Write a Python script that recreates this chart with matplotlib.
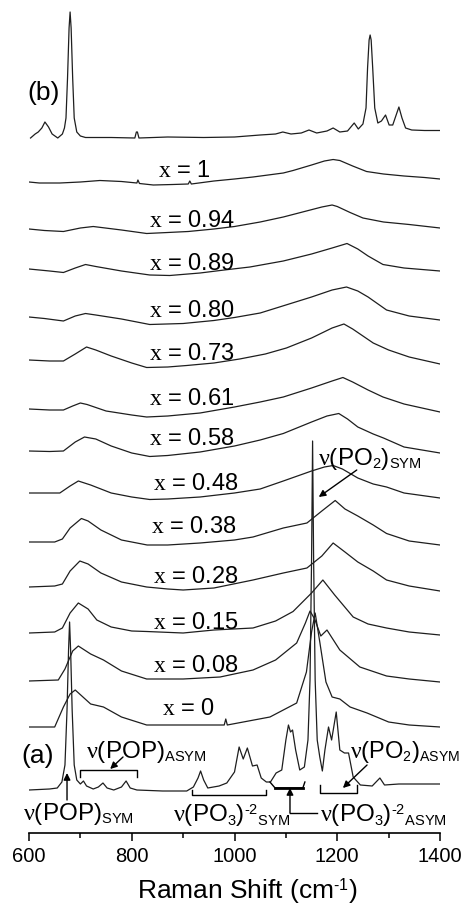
import numpy as np
import matplotlib
matplotlib.use("Agg")
import matplotlib.pyplot as plt
import matplotlib._mathtext as _mt

plt.rcParams["font.family"] = ["Liberation Sans", "DejaVu Sans"]
plt.rcParams["mathtext.fontset"] = "custom"
plt.rcParams["mathtext.rm"] = "Liberation Sans"
plt.rcParams["mathtext.it"] = "Liberation Serif"
plt.rcParams["mathtext.bf"] = "Liberation Sans:bold"
# smaller sub/superscripts for the band labels
_mt.SHRINK_FACTOR = 0.6

# ---------------------------------------------------------------- spectra
# Raman shift (cm^-1) and intensity (a.u., relative to each trace's start)
wn_b = [603, 612, 618, 625, 631, 638, 645, 656, 665, 669, 672, 675, 678, 680, 682,
        685, 688, 693, 700, 710, 760, 806, 809, 811, 814, 870, 940, 1000, 1050, 1080,
        1094, 1110, 1130, 1145, 1160, 1180, 1192, 1205, 1220, 1233, 1241, 1250, 1256,
        1259, 1262, 1264, 1266, 1269, 1273, 1279, 1286, 1294, 1301, 1308, 1314, 1320,
        1326, 1333, 1345, 1370, 1400]
int_b = [0, 4, 6, 10, 16, 11, 4, 0, 4, 10, 20, 60, 110, 126, 110,
         60, 20, 6, 2, 0.5, 0.5, 0, 6, 6, 0, 1, 0.5, 1, 3, 4,
         6, 4, 5, 8, 5, 7, 10, 6, 7, 15, 9, 14, 30,
         70, 98, 103, 98, 70, 30, 15, 17, 23, 13, 13, 22, 31,
         20, 10, 8, 7.5, 7.5]

wn_100 = [600, 620, 660, 700, 738, 780, 810, 812, 815, 842, 880, 910, 913, 916, 960,
          1000, 1036, 1095, 1114, 1150, 1175, 1192, 1205, 1230, 1257, 1290, 1330, 1370, 1400]
int_100 = [0, -1, -1, 0, 1.5, 0.5, -1, 2, -1.5, -3, -2.5, -2, 1, -2, 1,
           3, 5, 9, 11.5, 17, 21, 22.5, 21.5, 16, 10.5, 8, 6, 4.5, 3]

wn_094 = [600, 630, 667, 700, 725, 780, 829, 870, 910, 960, 1000, 1050, 1095, 1140,
          1170, 1190, 1200, 1225, 1250, 1290, 1340, 1400]
int_094 = [0, -1.5, -2.5, 1, 2.5, -1, -4.5, -3.5, -2.5, 0, 2.5, 7, 12, 18,
           22, 24, 22.5, 16.5, 11, 7, 4.5, 1]

wn_089 = [600, 640, 667, 690, 710, 730, 780, 835, 874, 933, 980, 1030, 1095, 1150,
          1190, 1219, 1240, 1260, 1289, 1330, 1400]
int_089 = [0, -2, -3.5, 1, 4.5, 2.5, -2, -6, -6.5, -4, -1, 2, 8, 15,
           21, 25.5, 20, 13, 4.5, 1, -2]

wn_080 = [600, 630, 667, 690, 710, 730, 780, 835, 900, 960, 1000, 1050, 1100, 1150,
          1190, 1218, 1240, 1260, 1296, 1340, 1400]
int_080 = [0, -1.5, -4, 1, 3.5, 2, -2, -7.5, -6.5, -3.5, -0.5, 4, 12, 20,
           27, 30, 26, 20, 7, 1, -3]

wn_073 = [600, 640, 667, 690, 712, 730, 760, 800, 829, 870, 907, 960, 1010, 1060,
          1101, 1150, 1190, 1213, 1230, 1250, 1270, 1300, 1340, 1400]
int_073 = [0, -1, -1, 6, 13, 10, 4, -3, -7.5, -7, -5.5, -3, 1, 6,
           12, 22, 32, 36, 31, 24, 17, 10, 3, -4]

wn_061 = [600, 640, 667, 685, 700, 713, 750, 800, 829, 870, 933, 1000, 1050, 1095,
          1150, 1190, 1211, 1230, 1260, 1289, 1330, 1400]
int_061 = [0, -1, -1, 3, 6, 4.5, -2, -6, -8, -7, -4, 2, 7, 12,
           21, 28, 31.5, 27, 19, 12, 5, -3]

wn_058 = [600, 640, 667, 690, 708, 730, 760, 800, 835, 870, 933, 1000, 1050, 1095,
          1150, 1180, 1203, 1220, 1240, 1270, 1290, 1330, 1400]
int_058 = [0, -0.5, 0, 9, 14, 12, 5, -2, -5.5, -4.5, -1, 5, 11, 17.5,
           29, 35, 37.5, 32, 24, 17, 13, 4, -2]

wn_048 = [600, 660, 680, 696, 720, 760, 800, 835, 870, 933, 1000, 1050, 1095, 1150,
          1175, 1192, 1210, 1240, 1270, 1296, 1330, 1400]
int_048 = [0, 0, 7, 12, 8, 0, -4, -6.5, -6, -4, 0, 4, 12, 22,
           26, 27.5, 24, 15, 9, 6, 0, -5]

wn_038 = [600, 650, 665, 680, 702, 715, 740, 780, 830, 870, 933, 1000, 1036, 1095,
          1141, 1170, 1196, 1215, 1240, 1270, 1296, 1340, 1400]
int_038 = [0, 0, 3, 14, 23.5, 21, 12, 2, -3, -3, -1, 2, 5, 14,
           19, 31, 41.5, 33, 26, 17, 8.5, 1, -3]

wn_028 = [600, 650, 665, 680, 699, 715, 740, 780, 829, 870, 900, 960, 1036, 1095,
          1141, 1170, 1192, 1215, 1240, 1270, 1296, 1340, 1400]
int_028 = [0, 1, 3, 16, 26, 23, 14, 5, 0, -2, -3, -1, 7, 14,
           19, 31, 44, 35, 25, 16, 7, 1, -4]

wn_015 = [600, 650, 665, 680, 696, 715, 732, 760, 800, 829, 900, 960, 1036, 1080,
          1114, 1150, 1172, 1195, 1231, 1260, 1296, 1340, 1400]
int_015 = [0, 1, 5, 20, 30, 24, 13, 6, 2, 1.5, 0, 3, 5, 12,
           21.5, 40, 53, 38, 16, 9, 5, 1, -2]

wn_008 = [600, 657, 670, 685, 696, 720, 745, 780, 829, 900, 972, 1036, 1080, 1121,
          1138, 1147, 1156, 1168, 1180, 1205, 1244, 1296, 1340, 1400]
int_008 = [0, 1, 12, 30, 35, 27, 21, 10, 2, 2, 4, 11, 21, 38,
           58, 70, 62, 45, 51, 31, 14, 5, 2, -1]

wn_000 = [600, 650, 667, 680, 690, 705, 720, 745, 780, 829, 900, 980, 983, 986,
          1069, 1121, 1140, 1150, 1157, 1166, 1178, 1190, 1205, 1225, 1258, 1300, 1340, 1400]
int_000 = [0, 0, 20, 33, 37, 30, 23, 20, 10, 2, 2, 2, 8, 2,
           10, 24, 55, 95, 114, 85, 45, 30, 28, 20, 14, 5, 2, 0]

wn_a = [600, 640, 655, 664, 670, 674, 677, 679, 681, 684, 688, 693, 700, 706, 712,
        725, 735, 744, 752, 765, 780, 789, 797, 810, 860, 907, 920, 929, 934, 940,
        948, 970, 985, 1000, 1009, 1017, 1025, 1035, 1044, 1052, 1062, 1070, 1081, 1092,
        1100, 1105, 1109, 1113, 1119, 1127, 1136, 1143, 1147, 1150, 1152, 1154, 1157,
        1161, 1166, 1171, 1176, 1183, 1189, 1198, 1205, 1214, 1222, 1231, 1245, 1268,
        1283, 1292, 1320, 1400]
int_a = [0, 1, 2, 8, 25, 80, 140, 168, 140, 80, 25, 10, 6, 9, 4,
         1, 3, 7, 2, 0, 3, 9, 2, 0, -1, -1, 3, 12, 19, 10,
         2, 4, 7, 18, 43, 31, 42, 24, 25, 12, 8, 8, 17, 20,
         50, 65, 58, 60, 40, 20, 23, 50, 110, 230, 349, 230, 110,
         50, 33, 19, 40, 63, 50, 78, 40, 37, 37, 13, 5, 4,
         12, 5, 6, 6]

# traces from top to bottom
spectra = [(wn_b, int_b), (wn_100, int_100), (wn_094, int_094), (wn_089, int_089),
           (wn_080, int_080), (wn_073, int_073), (wn_061, int_061), (wn_058, int_058),
           (wn_048, int_048), (wn_038, int_038), (wn_028, int_028), (wn_015, int_015),
           (wn_008, int_008), (wn_000, int_000), (wn_a, int_a)]
compositions = ["1", "0.94", "0.89", "0.80", "0.73", "0.61", "0.58", "0.48",
                "0.38", "0.28", "0.15", "0.08", "0"]

# ---------------------------------------------------------------- layout
stack_offsets = [695, 651, 604, 564, 516, 473, 424, 382, 340, 291, 246, 200, 152, 106, 43]
label_anchor = [(851, 656), (834, 606), (834, 563), (834, 516), (834, 473), (834, 428),
                (834, 388), (841, 343), (837, 300), (841, 250), (841, 204), (841, 161),
                (859, 118)]

fig = plt.figure(figsize=(4.63, 9.07), dpi=100)
ax = fig.add_axes([29 / 463, 74 / 907, 411 / 463, 828 / 907])
ax.set_xlim(600, 1400)
ax.set_ylim(0, 828)

line_col = "#1e1e1e"
for (wn, inten), off in zip(spectra, stack_offsets):
    ax.plot(wn, off + np.asarray(inten, dtype=float), color=line_col, lw=0.9)

fs_lab = 17
for comp, (lx, ly) in zip(compositions, label_anchor):
    ax.text(lx, ly, r"$x$ = " + comp, fontsize=fs_lab, ha="left", va="baseline")

ax.text(596, 733, "(b)", fontsize=19, ha="left", va="baseline", clip_on=False)
ax.text(586, 70, "(a)", fontsize=19, ha="left", va="baseline", clip_on=False)

# band assignments
fs_band = 17.5
ax.text(711, 75, r"$\nu$(POP)$_{\mathrm{ASYM}}$", fontsize=fs_band, va="baseline")
ax.text(588, 13, r"$\nu$(POP)$_{\mathrm{SYM}}$", fontsize=fs_band, va="baseline",
        clip_on=False)
ax.text(880, 11, r"$\nu$(PO$_3$)$^{\text{-2}}$$_{\mathrm{SYM}}$", fontsize=fs_band,
        va="baseline")
ax.text(1166, 11, r"$\nu$(PO$_3$)$^{\text{-2}}$$_{\mathrm{ASYM}}$", fontsize=fs_band,
        va="baseline", clip_on=False)
ax.text(1224, 75, r"$\nu$(PO$_2$)$_{\mathrm{ASYM}}$", fontsize=17, va="baseline",
        clip_on=False)
ax.text(1163, 368, r"$\nu$(PO$_2$)$_{\mathrm{SYM}}$", fontsize=fs_band, va="baseline")

kw = dict(color="black", lw=1.0)
# brackets
ax.plot([699, 699, 810, 810], [56, 63, 63, 56], **kw)
ax.plot([917, 917, 1061, 1061], [43, 38, 38, 43], **kw)
ax.plot([1069, 1079, 1133, 1137], [51, 45, 45, 51], **kw)
ax.plot([1079, 1133], [45, 45], color="black", lw=2.0)
ax.plot([1166, 1166, 1238, 1238], [48, 40, 40, 48], **kw)
ax.plot([1108, 1160], [20, 20], **kw)

arrow = dict(arrowstyle="-|>", color="black", lw=1.0, mutation_scale=10,
             shrinkA=0, shrinkB=0)
ax.annotate("", xy=(758, 64), xytext=(783, 76), arrowprops=arrow)
ax.annotate("", xy=(674, 60), xytext=(674, 33), arrowprops=arrow)
ax.annotate("", xy=(1108, 45), xytext=(1108, 20), arrowprops=arrow)
ax.annotate("", xy=(1211, 45), xytext=(1258, 68), arrowprops=arrow)
ax.annotate("", xy=(1164, 336), xytext=(1238, 363), arrowprops=arrow)

# axes styling
for s in ("left", "right", "top"):
    ax.spines[s].set_visible(False)
ax.spines["bottom"].set_linewidth(1.2)
ax.set_yticks([])
ax.set_xticks([600, 800, 1000, 1200, 1400])
ax.set_xticks([700, 900, 1100, 1300], minor=True)
ax.tick_params(axis="x", which="major", direction="out", length=6, width=1.1,
               labelsize=14.5, pad=4)
ax.tick_params(axis="x", which="minor", direction="out", length=3.5, width=1.1)
ax.set_xlabel(r"Raman Shift (cm$^{\text{-1}}$)", fontsize=19, labelpad=7)
ax.xaxis.set_label_coords(0.53, -0.052)

fig.savefig("out.png", dpi=100)
